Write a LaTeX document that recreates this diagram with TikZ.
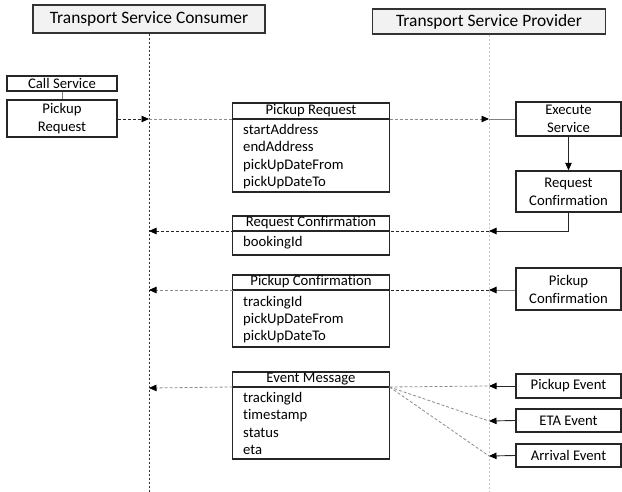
\documentclass[tikz,border=0pt]{standalone}
\usepackage{fontspec}
\setmainfont{Carlito}[Ligatures=NoCommon]
\usetikzlibrary{arrows.meta}
\begin{document}
\begin{tikzpicture}[x=1pt,y=-1pt,
  hdr/.style={draw=black!80, line width=1.2pt, fill=black!5, inner sep=0pt,
    font=\fontsize{17.4}{20}\selectfont},
  actbox/.style={draw=black!85, line width=1.4pt, inner sep=0pt, align=center,
    minimum width=105pt, font=\fontsize{14.7}{18}\selectfont},
  dtitle/.style={draw=black!85, line width=1.6pt, inner sep=0pt, outer sep=0pt, minimum width=157pt,
    text height=10pt, text depth=3.5pt, font=\fontsize{14.7}{17.5}\selectfont},
  dbody/.style={draw=black!85, line width=1.6pt, inner sep=0pt, outer sep=0pt, minimum width=157pt, anchor=north},
  field/.style={inner sep=0pt, anchor=base west, font=\fontsize{14.7}{17.5}\selectfont},
  tip/.style={-{Triangle[length=7.5pt,width=6.5pt,color=black]}},
  cline/.style={draw=black!80, line width=0.8pt, dash pattern=on 2.5pt off 1.5pt},
  pline/.style={draw=black!22, line width=0.9pt, dash pattern=on 2pt off 2pt},
  darkmsg/.style={draw=black!85, line width=0.8pt, dash pattern=on 3pt off 2pt},
  graymsg/.style={draw=black!45, line width=0.8pt, dash pattern=on 3pt off 2pt},
  solidmsg/.style={draw=black!85, line width=0.9pt},
  graysolid/.style={draw=black!50, line width=0.9pt},
]
\useasboundingbox (0,0) rectangle (622,492);

% lifeline headers
\node[hdr, minimum width=232pt, minimum height=28pt] (cons) at (149,19) {Transport Service Consumer};
\node[hdr, minimum width=233pt, minimum height=25pt] (prov) at (489,21.5) {Transport Service Provider};
\coordinate (consEnd) at (149,492);
\coordinate (provEnd) at (489,492);
\draw[cline] (cons.south) -- (consEnd);
\draw[pline] (prov.south) -- (provEnd);

% consumer side
\node[actbox, minimum width=110pt, minimum height=15pt] (call) at (62,83.5) {Call Service};
\node[actbox, minimum width=110pt, minimum height=37pt] (preq) at (62,118.5) {Pickup\\Request};
\draw[graysolid] (call.south) -- (preq.north);

% provider side
\node[actbox, minimum height=34pt] (exec) at (568.5,119) {Execute\\Service};
\node[actbox, minimum height=41pt] (rconf) at (568.5,191.5) {Request\\Confirmation};
\node[actbox, minimum height=42pt] (pconf) at (568.5,289) {Pickup\\Confirmation};
\node[actbox, minimum height=24pt] (pev) at (568.5,386) {Pickup Event};
\node[actbox, minimum height=23pt] (eev) at (568.5,420.5) {ETA Event};
\node[actbox, minimum height=23pt] (aev) at (568.5,455.5) {Arrival Event};

% data boxes
\node[dtitle, minimum height=16pt] (prt) at (311,111) {Pickup Request};
\node[dbody, minimum height=73pt] (prb) at (prt.south) {};
\node[field] (pr1) at (243,134.5) {startAddress};
\node[field] (pr2) at (243,152) {endAddress};
\node[field] (pr3) at (243,169.5) {pickUpDateFrom};
\node[field] (pr4) at (243,187) {pickUpDateTo};

\node[dtitle, minimum height=15pt] (rct) at (311,223.5) {Request Confirmation};
\node[dbody, minimum height=24pt] (rcb) at (rct.south) {};
\node[field] (rc1) at (243,247) {bookingId};

\node[dtitle, minimum height=15pt] (pct) at (311,282.5) {Pickup Confirmation};
\node[dbody, minimum height=57pt] (pcb) at (pct.south) {};
\node[field] (pc1) at (243,306) {trackingId};
\node[field] (pc2) at (243,323.5) {pickUpDateFrom};
\node[field] (pc3) at (243,341) {pickUpDateTo};

\node[dtitle, minimum height=15pt] (emt) at (311,379.5) {Event Message};
\node[dbody, minimum height=72pt] (emb) at (emt.south) {};
\node[field] (em1) at (243,402) {trackingId};
\node[field] (em2) at (243,419.5) {timestamp};
\node[field] (em3) at (243,437) {status};
\node[field] (em4) at (243,454.5) {eta};

% points on lifelines
\coordinate (c1) at (149,119);
\coordinate (p1) at (489,119);
\coordinate (c2) at (149,231);
\coordinate (p2) at (489,231);
\coordinate (c3) at (149,290);
\coordinate (p3) at (489,290);
\coordinate (c4) at (149,388);
\coordinate (p4) at (489,386);
\coordinate (p5) at (489,421);
\coordinate (p6) at (489,456);

% pickup request message
\draw[darkmsg, tip] (preq.east |- c1) -- (c1);
\draw[graymsg] (c1) -- (prb.north west);
\draw[graymsg, tip] (prb.north east) -- (p1);
\draw[graysolid] (exec.west) -- (p1);

% request confirmation
\draw[solidmsg, tip] (exec.south) -- (rconf.north);
\draw[solidmsg, tip] (rconf.south) |- (p2);
\draw[darkmsg, tip] (p2) -- (c2);

% pickup confirmation
\draw[graysolid, tip] (pconf.west |- p3) -- (p3);
\draw[darkmsg] (p3) -- (pcb.north east);
\draw[graymsg, tip] (pcb.north west) -- (c3);

% events
\draw[solidmsg, tip] (pev.west) -- (p4);
\draw[solidmsg, tip] (eev.west) -- (p5);
\draw[solidmsg, tip] (aev.west) -- (p6);
\draw[graymsg] (emb.north east) -- (p4);
\draw[graymsg] (emb.north east) -- (p5);
\draw[graymsg] (emb.north east) -- (p6);
\draw[graymsg, tip] (emb.north west) -- (c4);
\end{tikzpicture}
\end{document}
